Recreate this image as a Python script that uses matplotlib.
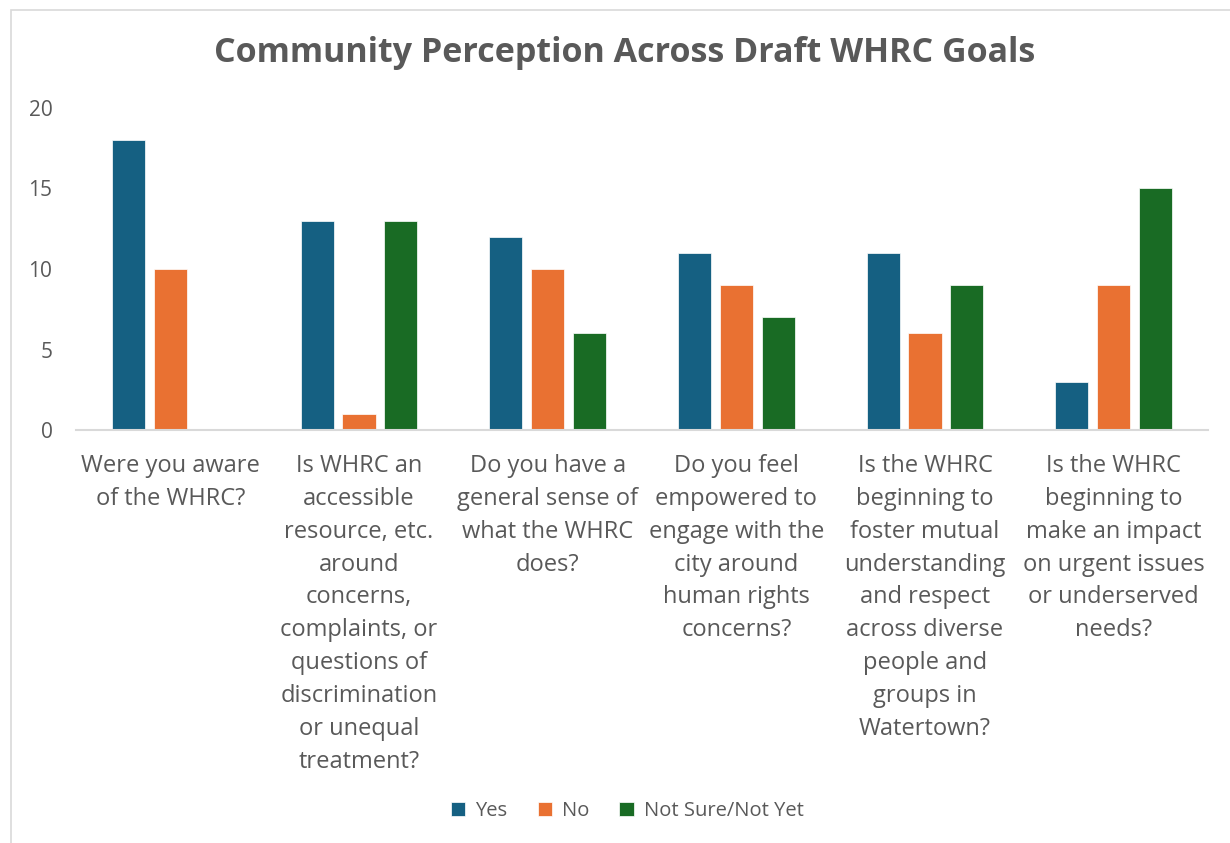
import numpy as np
import matplotlib.pyplot as plt
from matplotlib.patches import Rectangle

# data
questions = [
    "Were you aware\nof the WHRC?",
    "Is WHRC an\naccessible\nresource, etc.\naround\nconcerns,\ncomplaints, or\nquestions of\ndiscrimination\nor unequal\ntreatment?",
    "Do you have a\ngeneral sense of\nwhat the WHRC\ndoes?",
    "Do you feel\nempowered to\nengage with the\ncity around\nhuman rights\nconcerns?",
    "Is the WHRC\nbeginning to\nfoster mutual\nunderstanding\nand respect\nacross diverse\npeople and\ngroups in\nWatertown?",
    "Is the WHRC\nbeginning to\nmake an impact\non urgent issues\nor underserved\nneeds?",
]
yes = [18, 13, 12, 11, 11, 3]
no = [10, 1, 10, 9, 6, 9]
not_sure = [0, 13, 6, 7, 9, 15]
series_names = ["Yes", "No", "Not Sure/Not Yet"]
colors = ["#156082", "#E97132", "#196B24"]

plt.rcParams['font.family'] = ['Open Sans', 'DejaVu Sans']
text_color = "#595959"

fig = plt.figure(figsize=(12.3, 8.43), dpi=100)
fig.patches.append(Rectangle((11 / 1230, -0.1), 1.2, 1 - 10 / 843 + 0.1,
                             transform=fig.transFigure, fill=False,
                             edgecolor="#D9D9D9", lw=1.2))
ax = fig.add_axes([76 / 1230, 1 - 430 / 843, (1208 - 76) / 1230, (430 - 108) / 843])

x = np.arange(len(questions))
w = 0.175
step = 0.222
for i, (vals, name, c) in enumerate(zip([yes, no, not_sure], series_names, colors)):
    ax.bar(x + (i - 1) * step, vals, width=w, color=c, label=name,
           edgecolor="white", linewidth=0.5)

ax.set_xlim(-0.5, len(questions) - 0.5)
ax.set_ylim(0, 20)
ax.set_yticks([0, 5, 10, 15, 20])
ax.tick_params(axis='y', length=0, labelsize=15, labelcolor=text_color, pad=17)
ax.set_xticks([])
for s in ["top", "right", "left"]:
    ax.spines[s].set_visible(False)
ax.spines["bottom"].set_color("#D9D9D9")
ax.spines["bottom"].set_linewidth(1.5)

for xi, q in zip(x, questions):
    ax.text(xi, -1.5, q, ha="center", va="top", fontsize=17,
            color=text_color, linespacing=1.49, transform=ax.transData)

fig.text(0.508, 1 - 53 / 843, "Community Perception Across Draft WHRC Goals",
         ha="center", va="center", fontsize=24.5, fontweight="bold", color=text_color)

fig.legend(loc="center", bbox_to_anchor=(0.51, 1 - 811 / 843), ncol=3,
           frameon=False, fontsize=14.5, labelcolor=text_color,
           handlelength=0.7, handleheight=0.7, handletextpad=0.5, columnspacing=1.5)

fig.savefig("out.png", dpi=100)
